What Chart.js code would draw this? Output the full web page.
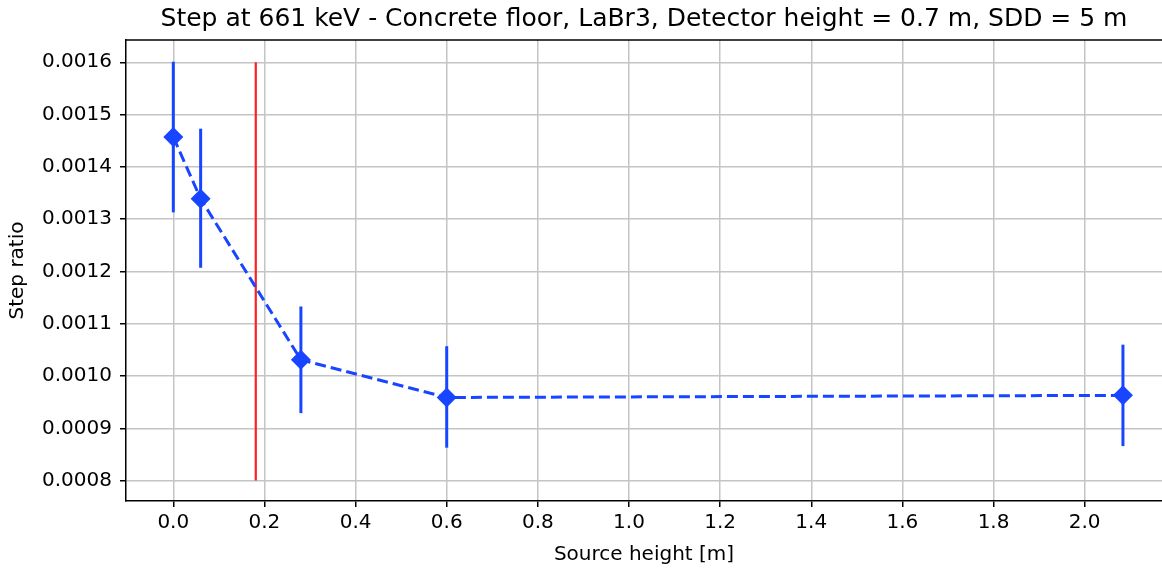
<!DOCTYPE html>
<html>
<head>
<meta charset="utf-8">
<script src="https://cdn.jsdelivr.net/npm/chart.js@4.4.0/dist/chart.umd.min.js"></script>
<style>
    html, body { margin: 0; padding: 0; background: #fff; overflow: hidden; }
    #step-chart { display: block; }
</style>
</head>
<body>
<canvas id="step-chart" width="1162" height="569"></canvas>
<script>
// ================================
// Data
// ================================
const sourceHeights = [0.0, 0.06, 0.28, 0.60, 2.084];
const stepRatios = [0.001457, 0.001339, 0.001031, 0.000959, 0.000963];
const errLow = [0.001313, 0.001207, 0.000929, 0.000863, 0.000866];
const errHigh = [0.001601, 0.001473, 0.001133, 0.001057, 0.001060];

const detectorMarkX = 0.181;
const detectorMarkY = [0.0008, 0.0016];

const xTicks = [0.0, 0.2, 0.4, 0.6, 0.8, 1.0, 1.2, 1.4, 1.6, 1.8, 2.0];
const yTicks = [0.0008, 0.0009, 0.0010, 0.0011, 0.0012, 0.0013, 0.0014, 0.0015, 0.0016];

const BLUE = "#1845ff";
const FONT = "'DejaVu Sans', sans-serif";

function initializeChart() {
    // the top spine (matplotlib style frame, right side is cut off)
    const topSpine = {
        id: "topSpine",
        afterDatasetsDraw(chart) {
            const { ctx, chartArea } = chart;
            ctx.save();
            ctx.strokeStyle = "#000";
            ctx.lineWidth = 1.5;
            ctx.beginPath();
            ctx.moveTo(chartArea.left, chartArea.top);
            ctx.lineTo(chartArea.right, chartArea.top);
            ctx.stroke();
            ctx.restore();
        },
    };

    const datasets = [
        {
            label: "Step ratio",
            data: sourceHeights.map((x, i) => ({ x: x, y: stepRatios[i] })),
            borderColor: BLUE,
            backgroundColor: BLUE,
            borderWidth: 3,
            borderDash: [11, 5],
            pointStyle: "rectRot",
            pointRadius: 10,
            pointBorderWidth: 0,
            order: 0,
        },
    ];

    // error bars, one small line per point
    sourceHeights.forEach((x, i) => {
        datasets.push({
            label: "err" + i,
            data: [{ x: x, y: errLow[i] }, { x: x, y: errHigh[i] }],
            borderColor: BLUE,
            borderWidth: 3,
            pointRadius: 0,
            order: 1,
        });
    });

    // red vertical marker
    datasets.push({
        label: "detector",
        data: [{ x: detectorMarkX, y: detectorMarkY[0] }, { x: detectorMarkX, y: detectorMarkY[1] }],
        borderColor: "#ff2020",
        borderWidth: 2.2,
        pointRadius: 0,
        order: 2,
    });

    new Chart(document.getElementById("step-chart"), {
        type: "line",
        data: { datasets: datasets },
        plugins: [topSpine],
        options: {
            responsive: false,
            animation: false,
            events: [],
            layout: { padding: 0, autoPadding: false },
            plugins: {
                legend: { display: false },
                tooltip: { enabled: false },
                title: {
                    display: true,
                    fullSize: false,
                    text: "Step at 661 keV - Concrete floor, LaBr3, Detector height = 0.7 m, SDD = 5 m",
                    color: "#000",
                    font: { family: FONT, size: 25, weight: "normal" },
                    padding: { top: 4, bottom: 6 },
                },
            },
            scales: {
                x: {
                    type: "linear",
                    min: -0.1038,
                    max: 2.1697,
                    afterBuildTicks: (scale) => {
                        scale.ticks = xTicks.map((v) => ({ value: v }));
                    },
                    afterFit: (scale) => {
                        scale.height = 68;
                        scale.paddingLeft = 0;
                        scale.paddingRight = 0;
                    },
                    ticks: {
                        color: "#000",
                        font: { family: FONT, size: 20 },
                        padding: 4,
                        maxRotation: 0,
                        callback: (v) => Number(v).toFixed(1),
                    },
                    grid: {
                        color: "#c4c4c4",
                        lineWidth: 1.5,
                        tickColor: "#000",
                        tickLength: 6,
                    },
                    border: { color: "#000", width: 1.5 },
                    title: {
                        display: true,
                        text: "Source height [m]",
                        color: "#000",
                        font: { family: FONT, size: 20 },
                        padding: { top: 0, bottom: 2 },
                    },
                },
                y: {
                    type: "linear",
                    min: 0.000761,
                    max: 0.0016426,
                    afterBuildTicks: (scale) => {
                        scale.ticks = yTicks.map((v) => ({ value: v }));
                    },
                    afterFit: (scale) => {
                        scale.width = 126;
                        scale.paddingTop = 0;
                        scale.paddingBottom = 0;
                    },
                    ticks: {
                        color: "#000",
                        font: { family: FONT, size: 20 },
                        padding: 8,
                        callback: (v) => Number(v).toFixed(4),
                    },
                    grid: {
                        color: "#c4c4c4",
                        lineWidth: 1.5,
                        tickColor: "#000",
                        tickLength: 6,
                    },
                    border: { color: "#000", width: 1.5 },
                    title: {
                        display: true,
                        text: "Step ratio",
                        color: "#000",
                        font: { family: FONT, size: 20 },
                        padding: { top: 6, bottom: 0 },
                    },
                },
            },
        },
    });
}

document.addEventListener("DOMContentLoaded", initializeChart);
</script>
</body>
</html>
